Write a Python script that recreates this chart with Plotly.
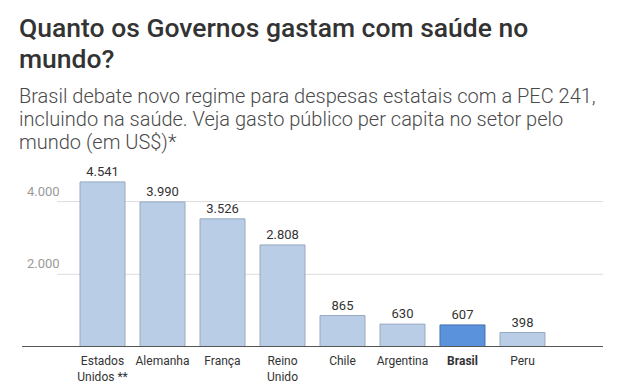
import plotly.graph_objects as go

categories = ["Estados<br>Unidos **", "Alemanha", "França", "Reino<br>Unido",
              "Chile", "Argentina", "<b>Brasil</b>", "Peru"]
values = [4541, 3990, 3526, 2808, 865, 630, 607, 398]
highlight = [False, False, False, False, False, False, True, False]
y_ticks = [2000, 4000]
y_tick_labels = ["2.000", "4.000"]

title_lines = ["Quanto os Governos gastam com saúde no", "mundo?"]
subtitle_lines = ["Brasil debate novo regime para despesas estatais com a PEC 241,",
                  "incluindo na saúde. Veja gasto público per capita no setor pelo",
                  "mundo (em US$)*"]

W, H = 640, 385
ML, MR, MT, MB = 22, 37, 170, 38
plot_h = H - MT - MB
plot_w = W - ML - MR

def px_to_paper_y(p):
    return (H - MB - p) / plot_h

def px_to_paper_x(p):
    return (p - ML) / plot_w

light = "#b9cde6"
light_line = "#97a9c0"
dark = "#5a93db"
dark_line = "#4572ad"

fill = [dark if h else light for h in highlight]
edge = [dark_line if h else light_line for h in highlight]

fig = go.Figure()
fig.add_trace(go.Bar(
    x=categories, y=values,
    marker=dict(color=fill, line=dict(color=edge, width=1)),
    width=0.75,
    texttemplate="%{y:,}",
    textposition="outside",
    textfont=dict(family="Roboto", size=13, color="#333333"),
    cliponaxis=False,
    hoverinfo="skip",
))

shapes = []
for v in y_ticks:
    shapes.append(dict(type="line", xref="paper", yref="y",
                       x0=px_to_paper_x(57), x1=1, y0=v, y1=v,
                       line=dict(color="#dddddd", width=1), layer="below"))
shapes.append(dict(type="line", xref="paper", yref="y", x0=0, x1=1, y0=0, y1=0,
                   line=dict(color="#555555", width=2), layer="above"))

annotations = []
for v, t in zip(y_ticks, y_tick_labels):
    annotations.append(dict(text=t, xref="paper", yref="y", x=px_to_paper_x(25), y=v,
                            xanchor="left", yanchor="bottom", yshift=1, showarrow=False,
                            font=dict(family="Roboto", size=13, color="#9a9a9a")))
for i, line in enumerate(title_lines):
    annotations.append(dict(text=line, xref="paper", yref="paper",
                            x=px_to_paper_x(17), y=px_to_paper_y(27 + 31 * i),
                            xanchor="left", yanchor="middle",
                            align="left", showarrow=False,
                            font=dict(family="Roboto", size=26.5, color="#333333", weight=500)))
for i, line in enumerate(subtitle_lines):
    annotations.append(dict(text=line, xref="paper", yref="paper",
                            x=px_to_paper_x(17), y=px_to_paper_y(96 + 23 * i),
                            xanchor="left", yanchor="middle",
                            align="left", showarrow=False,
                            font=dict(family="Roboto", size=20, color="#4a4a4a", weight=300)))

fig.update_layout(
    width=W, height=H,
    margin=dict(l=ML, r=MR, t=MT, b=MB, pad=0),
    paper_bgcolor="white", plot_bgcolor="white",
    separators=",.",
    showlegend=False,
    shapes=shapes,
    annotations=annotations,
    xaxis=dict(type="category", range=[-1.342, 8.342], showgrid=False, zeroline=False,
               showline=False, ticks="", fixedrange=True, automargin=False,
               ticklabelstandoff=5,
               tickfont=dict(family="Roboto", size=12, color="#333333")),
    yaxis=dict(range=[0, 4869], showgrid=False, zeroline=False, showline=False,
               showticklabels=False, ticks="", fixedrange=True, automargin=False),
)

fig.write_html("out.html", config={"displayModeBar": False},
               post_script="document.body.style.margin='0';")
